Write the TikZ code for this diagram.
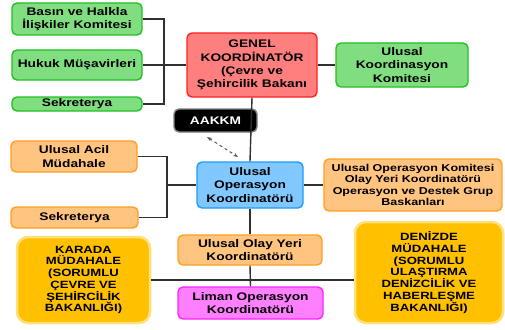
\documentclass[tikz,border=0pt]{standalone}
\usepackage{fontspec}
\setmainfont[FakeStretch=1.25]{Liberation Sans}
\usetikzlibrary{arrows.meta}
\definecolor{yesil}{HTML}{80DE80}
\definecolor{yesilk}{HTML}{22C022}
\definecolor{kirmizi}{HTML}{FF7F7F}
\definecolor{kirmizik}{HTML}{FF2222}
\definecolor{mavi}{HTML}{80C8FF}
\definecolor{mavik}{HTML}{1E9BFF}
\definecolor{turuncu}{HTML}{FFC480}
\definecolor{turuncuk}{HTML}{FF9F22}
\definecolor{pembe}{HTML}{FF80FF}
\definecolor{pembek}{HTML}{FF22FF}
\definecolor{altin}{HTML}{FFC000}
\definecolor{altink}{HTML}{FFE07A}
\definecolor{hat}{HTML}{303030}
\tikzset{
	kutu/.style={draw, rounded corners=5pt, line width=1.4pt, align=center,
		inner sep=1pt, font=\bfseries\fontsize{11}{13.3}\selectfont},
	ykutu/.style={kutu, fill=yesil, draw=yesilk},
	kkutu/.style={kutu, fill=kirmizi, draw=kirmizik},
	mkutu/.style={kutu, fill=mavi, draw=mavik},
	tkutu/.style={kutu, fill=turuncu, draw=turuncuk},
	pkutu/.style={kutu, fill=pembe, draw=pembek},
	akutu/.style={kutu, fill=altin, draw=altink, line width=2.5pt, rounded corners=11pt,
		font=\bfseries\fontsize{10.5}{11.7}\selectfont},
	hatcizgi/.style={hat, line width=1.4pt}
}
\begin{document}
\begin{tikzpicture}[x=1pt, y=-1pt]
		\useasboundingbox (0,0) rectangle (505,329);
		%--ust grup
		\node[ykutu, minimum width=130, minimum height=32] (basin) at (77,19) {Basın ve Halkla\\İlişkiler Komitesi};
		\node[ykutu, minimum width=130, minimum height=30] (hukuk) at (77,65) {Hukuk Müşavirleri};
		\node[ykutu, minimum width=130, minimum height=14] (sekr1) at (77,104) {Sekreterya};
		\node[kkutu, minimum width=130, minimum height=64] (genel) at (252,65) {GENEL\\KOORDİNATÖR\\(Çevre ve\\Şehircilik Bakanı};
		\node[ykutu, minimum width=132, minimum height=44] (ukk) at (402,65) {Ulusal\\Koordinasyon\\Komitesi};
		\node[kutu, fill=black, draw=gray, text=white, minimum width=83, minimum height=23] (aakkm) at (215.5,120.5) {AAKKM};
		
		%--orta grup
		\node[mkutu, minimum width=106, minimum height=46] (uop) at (250,185) {Ulusal\\Operasyon\\Koordinatörü};
		\node[tkutu, minimum width=126, minimum height=31] (acil) at (74,156.5) {Ulusal Acil\\Müdahale};
		\node[tkutu, minimum width=127, minimum height=21] (sekr2) at (74.5,217.5) {Sekreterya};
		\node[tkutu, minimum width=178, minimum height=52, font=\bfseries\fontsize{10}{11.2}\selectfont] (uokrt) at (413,185) {Ulusal Operasyon Komitesi\\Olay Yeri Koordinatörü\\Operasyon ve Destek Grup\\Baskanları};
		
		%--alt grup
		\node[tkutu, minimum width=144, minimum height=30] (olay) at (250,250) {Ulusal Olay Yeri\\Koordinatörü};
		\node[pkutu, minimum width=145, minimum height=32] (liman) at (250.5,303) {Liman Operasyon\\Koordinatörü};
		\node[akutu, minimum width=133, minimum height=86] (karada) at (83.5,280) {KARADA\\MÜDAHALE\\(SORUMLU\\ÇEVRE VE\\ŞEHİRCİLİK\\BAKANLIĞI)};
		\node[akutu, minimum width=148, minimum height=101] (denizde) at (429,272.5) {DENİZDE\\MÜDAHALE\\(SORUMLU\\ULAŞTIRMA\\DENİZCİLİK VE\\HABERLEŞME\\BAKANLIĞI)};
		
		%--baglantilar
		\coordinate (b1) at (164,65);
		\coordinate (b2) at (167,185);
		\draw[hatcizgi] (basin.east) -| (b1) |- (sekr1.east);
		\draw[hatcizgi] (hukuk.east) -- (genel.west);
		\draw[hatcizgi] (genel.east) -- (ukk.west);
		\draw[hatcizgi] (acil.east) -| (b2) |- (sekr2.east);
		\draw[hatcizgi] (b2) -- (uop.west);
		\draw[hatcizgi] (uop.east) -- (uokrt.west);
		\draw[hatcizgi] (genel.south) -- (uop.north);
		\draw[hatcizgi] (uop.south) -- (olay.north);
		\draw[hatcizgi] (olay.south) -- (liman.north);
		\draw[hatcizgi] (karada.east) -- (karada.east -| denizde.west);
		\coordinate (d1) at (207,137);
		\coordinate (d2) at (238,157);
		\draw[gray!70!black, line width=1pt, dashed, {Stealth[length=5pt]}-{Stealth[length=5pt]}] (d1) -- (d2);
	\end{tikzpicture}
\end{document}
